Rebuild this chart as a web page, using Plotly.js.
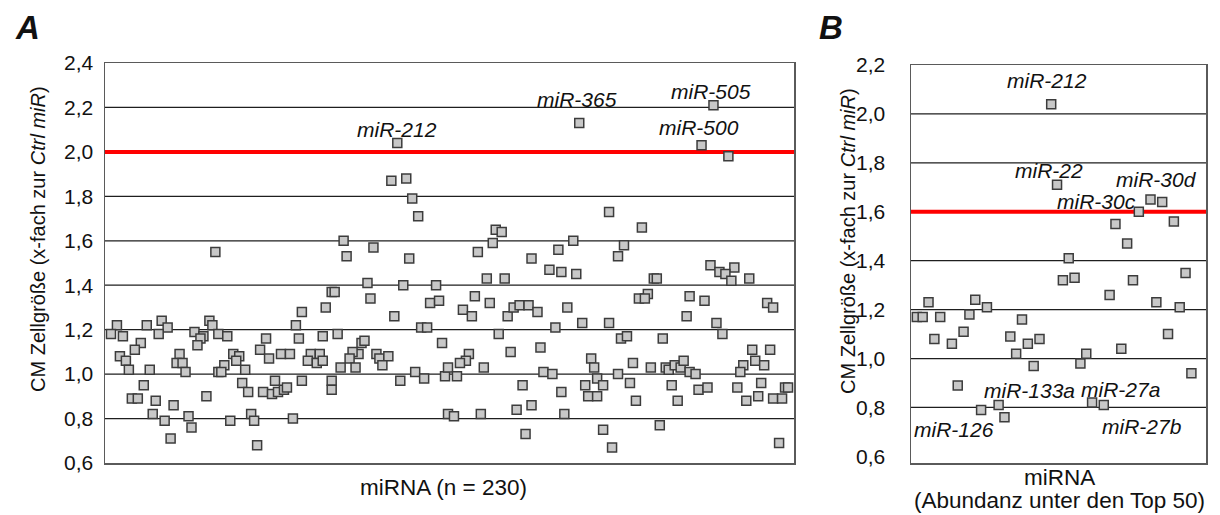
<!DOCTYPE html>
<html>
<head>
<meta charset="utf-8">
<script src="https://cdn.plot.ly/plotly-3.0.1.min.js"></script>
<style>
  html, body { margin: 0; padding: 0; background: #fff; }
  #chart { width: 1220px; height: 515px; }
</style>
</head>
<body>
<div id="chart"></div>
<script>
// ---------- Panel A: all miRNAs (n = 230) ----------
const xA = [
  37,4,14,19,21,35,36,2,6,18,30,33,32,38,12,31,10,5,7,25,24,26,8,15,27,38,13,9,11,17,23,34,16,20,28,29,22,
  76,66,74,64,41,54,52,65,73,43,45,44,55,59,62,69,68,72,71,73,40,47,39,46,48,53,56,57,58,60,61,66,76,76,42,49,50,63,51,
  98,96,101,103,105,80,81,90,102,77,88,100,111,89,109,112,97,106,108,78,113,86,87,85,83,82,91,92,95,93,79,84,104,107,114,115,99,115,
  131,133,130,125,143,152,149,153,128,134,124,129,120,123,135,137,139,142,145,155,132,151,136,146,122,121,119,127,118,147,150,140,153,117,126,138,143,154,141,
  159,169,180,157,174,172,158,184,185,182,179,181,160,169,173,175,187,163,164,165,167,172,177,183,188,189,191,161,162,165,176,178,190,192,167,186,170,
  204,200,209,203,211,216,206,208,210,196,201,222,224,195,205,207,217,223,218,221,214,213,193,194,196,198,199,202,212,220,215,219,224,227,228,229,226
];
const yA = [
  1.55,1.22,1.22,1.24,1.21,1.24,1.22,1.18,1.17,1.18,1.19,1.17,1.16,1.18,1.14,1.13,1.11,1.08,1.06,1.09,1.05,1.05,1.02,1.02,1.01,1.01,0.95,0.89,0.89,0.88,0.86,0.90,0.82,0.79,0.81,0.76,0.71,
  1.37,1.28,1.30,1.22,1.17,1.16,1.11,1.16,1.17,1.09,1.08,1.06,1.07,1.09,1.09,1.09,1.06,1.09,1.05,1.06,1.04,1.02,1.01,0.96,0.92,0.92,0.91,0.97,0.92,0.93,0.94,0.97,0.97,0.93,0.79,0.82,0.79,0.80,0.68,
  2.04,1.87,1.88,1.79,1.71,1.60,1.53,1.57,1.52,1.37,1.41,1.40,1.40,1.34,1.32,1.33,1.26,1.21,1.21,1.18,1.14,1.14,1.15,1.09,1.10,1.07,1.09,1.07,1.08,1.04,1.03,1.03,1.01,0.98,0.99,1.03,0.97,0.82,
  1.65,1.64,1.59,1.55,1.52,1.56,1.47,1.46,1.43,1.43,1.35,1.32,1.29,1.26,1.26,1.30,1.31,1.31,1.28,1.30,1.18,1.21,1.10,1.12,1.09,1.06,1.05,1.03,0.99,1.01,1.00,0.95,0.92,0.81,0.82,0.84,0.86,0.82,0.73,
  2.13,1.73,1.66,1.60,1.58,1.53,1.45,1.43,1.43,1.36,1.34,1.34,1.23,1.23,1.16,1.17,1.16,1.07,1.03,0.98,0.95,1.00,1.05,1.03,1.03,1.02,1.04,0.95,0.90,0.90,0.96,0.88,0.95,0.88,0.75,0.77,0.67,
  2.21,2.03,1.98,1.49,1.48,1.43,1.46,1.45,1.42,1.35,1.33,1.32,1.30,1.26,1.23,1.18,1.11,1.11,1.06,1.04,1.04,1.01,1.03,1.06,1.01,1.00,0.93,0.94,0.94,0.96,0.88,0.90,0.89,0.89,0.94,0.94,0.69
];
const thresholdA = 2.0;
const labelsA  = ["miR-212", "miR-365", "miR-505", "miR-500"];
const labelXA  = [97.9, 158.3, 203.2, 199.2];
const labelYA  = [2.103, 2.234, 2.274, 2.108];

// ---------- Panel B: top-50 abundant miRNAs ----------
const xB = [1,2,3,5,4,7,9,10,11,13,8,17,19,18,20,22,21,12,15,16,24,25,41,43,39,35,45,37,27,26,28,34,38,47,42,46,44,36,30,29,48,31,33];
const yB = [1.17,1.17,1.23,1.17,1.08,1.06,1.11,1.18,1.24,1.21,0.89,1.09,1.16,1.02,1.06,1.08,0.97,0.79,0.81,0.76,2.04,1.71,1.65,1.64,1.60,1.55,1.56,1.47,1.41,1.32,1.33,1.26,1.32,1.35,1.23,1.21,1.10,1.04,1.02,0.98,0.94,0.82,0.81];
const thresholdB = 1.6;
const labelsB = ["miR-212", "miR-22", "miR-30d", "miR-30c", "miR-133a", "miR-27a", "miR-27b", "miR-126"];
const labelXB = [23.3, 23.6, 42.1, 31.8, 20.2, 35.8, 39.5, 7.4];
const labelYB = [2.136, 1.768, 1.731, 1.641, 0.870, 0.874, 0.722, 0.710];

const tickValsA = [0.6, 0.8, 1.0, 1.2, 1.4, 1.6, 1.8, 2.0, 2.2, 2.4];
const tickValsB = [0.6, 0.8, 1.0, 1.2, 1.4, 1.6, 1.8, 2.0, 2.2];

// ---------- styling ----------
const FONT = "Liberation Sans, Arial, Helvetica, sans-serif";
const W = 1220, H = 515;
const px = v => v / W;
const py = v => 1 - v / H;

const marker = {
  symbol: "square", size: 9, color: "#c8c8c8",
  line: { color: "#3c3c3c", width: 1.5 }
};

const traces = [
  { type: "scatter", mode: "markers", x: xA, y: yA, xaxis: "x", yaxis: "y",
    marker: marker, hoverinfo: "y", cliponaxis: false },
  { type: "scatter", mode: "markers", x: xB, y: yB, xaxis: "x2", yaxis: "y2",
    marker: marker, hoverinfo: "y", cliponaxis: false }
];

const xaxisBase = {
  showticklabels: false, ticks: "", showgrid: false, zeroline: false,
  showline: true, mirror: true, linecolor: "#5a5a5a", linewidth: 1.5, fixedrange: true
};
const yaxisBase = {
  tickformat: ".1f", ticks: "", showgrid: false, zeroline: false,
  showline: true, mirror: true, linecolor: "#5a5a5a", linewidth: 1.5,
  tickfont: { family: FONT, size: 21, color: "#111" }, fixedrange: true
};

// grid lines as shapes (so the red threshold lines sit on top, and panel B has no 0,6 line)
const shapes = [];
tickValsA.filter(v => v > 0.65 && v < 2.35 && v !== thresholdA).forEach(v => shapes.push({
  type: "line", xref: "x domain", yref: "y", x0: 0, x1: 1, y0: v, y1: v,
  line: { color: "#1e1e1e", width: 1.3 }, layer: "below"
}));
tickValsB.filter(v => v > 0.65 && v < 2.15 && v !== thresholdB).forEach(v => shapes.push({
  type: "line", xref: "x2 domain", yref: "y2", x0: 0, x1: 1, y0: v, y1: v,
  line: { color: "#1e1e1e", width: 1.3 }, layer: "below"
}));
shapes.push({ type: "line", xref: "x domain", yref: "y", x0: 0, x1: 1, y0: thresholdA, y1: thresholdA,
  line: { color: "#ff0000", width: 4 }, layer: "below" });
shapes.push({ type: "line", xref: "x2 domain", yref: "y2", x0: 0, x1: 1, y0: thresholdB, y1: thresholdB,
  line: { color: "#ff0000", width: 4 }, layer: "below" });

const annotations = [];
function ann(text, x, y, size, extra) {
  annotations.push(Object.assign({
    text: text, xref: "paper", yref: "paper", x: px(x), y: py(y),
    xanchor: "center", yanchor: "middle", showarrow: false,
    font: { family: FONT, size: size, color: "#111" }
  }, extra || {}));
}
ann("<b><i>A</i></b>", 27, 27, 33);
ann("<b><i>B</i></b>", 831, 27, 33);
ann("CM Zellgröße (x-fach zur <i>Ctrl miR</i>)", 38, 239, 20, { textangle: -90 });
ann("CM Zellgröße (x-fach zur <i>Ctrl miR</i>)", 848, 241, 20, { textangle: -90 });
ann("miRNA (n = 230)", 443, 487, 22.5);
ann("miRNA", 1059, 477, 22.5);
ann("(Abundanz unter den Top 50)", 1059, 500, 22.5);

labelsA.forEach((t, i) => annotations.push({
  text: "<i>" + t + "</i>", xref: "x", yref: "y", x: labelXA[i], y: labelYA[i],
  xanchor: "center", yanchor: "middle", showarrow: false,
  font: { family: FONT, size: 21, color: "#111" }
}));
labelsB.forEach((t, i) => annotations.push({
  text: "<i>" + t + "</i>", xref: "x2", yref: "y2", x: labelXB[i], y: labelYB[i],
  xanchor: "center", yanchor: "middle", showarrow: false,
  font: { family: FONT, size: 21, color: "#111" }
}));

const layout = {
  width: W, height: H,
  margin: { l: 0, r: 0, t: 0, b: 0 },
  paper_bgcolor: "#fff", plot_bgcolor: "#fff",
  showlegend: false,
  separators: ",.",
  font: { family: FONT, color: "#111" },
  xaxis: Object.assign({}, xaxisBase, { domain: [px(105), px(794)], range: [0, 231], anchor: "y" }),
  yaxis: Object.assign({}, yaxisBase, { tickvals: tickValsA, domain: [py(463), py(63)], range: [0.6, 2.4], anchor: "x", ticklabelstandoff: 6 }),
  xaxis2: Object.assign({}, xaxisBase, { domain: [px(911), px(1206)], range: [0, 50.5], anchor: "y2" }),
  yaxis2: Object.assign({}, yaxisBase, { tickvals: tickValsB, domain: [py(463), py(65)], range: [0.573, 2.2], anchor: "x2", ticklabelstandoff: 20 }),
  shapes: shapes,
  annotations: annotations
};

Plotly.newPlot("chart", traces, layout, { displayModeBar: false, staticPlot: true });
</script>
</body>
</html>
